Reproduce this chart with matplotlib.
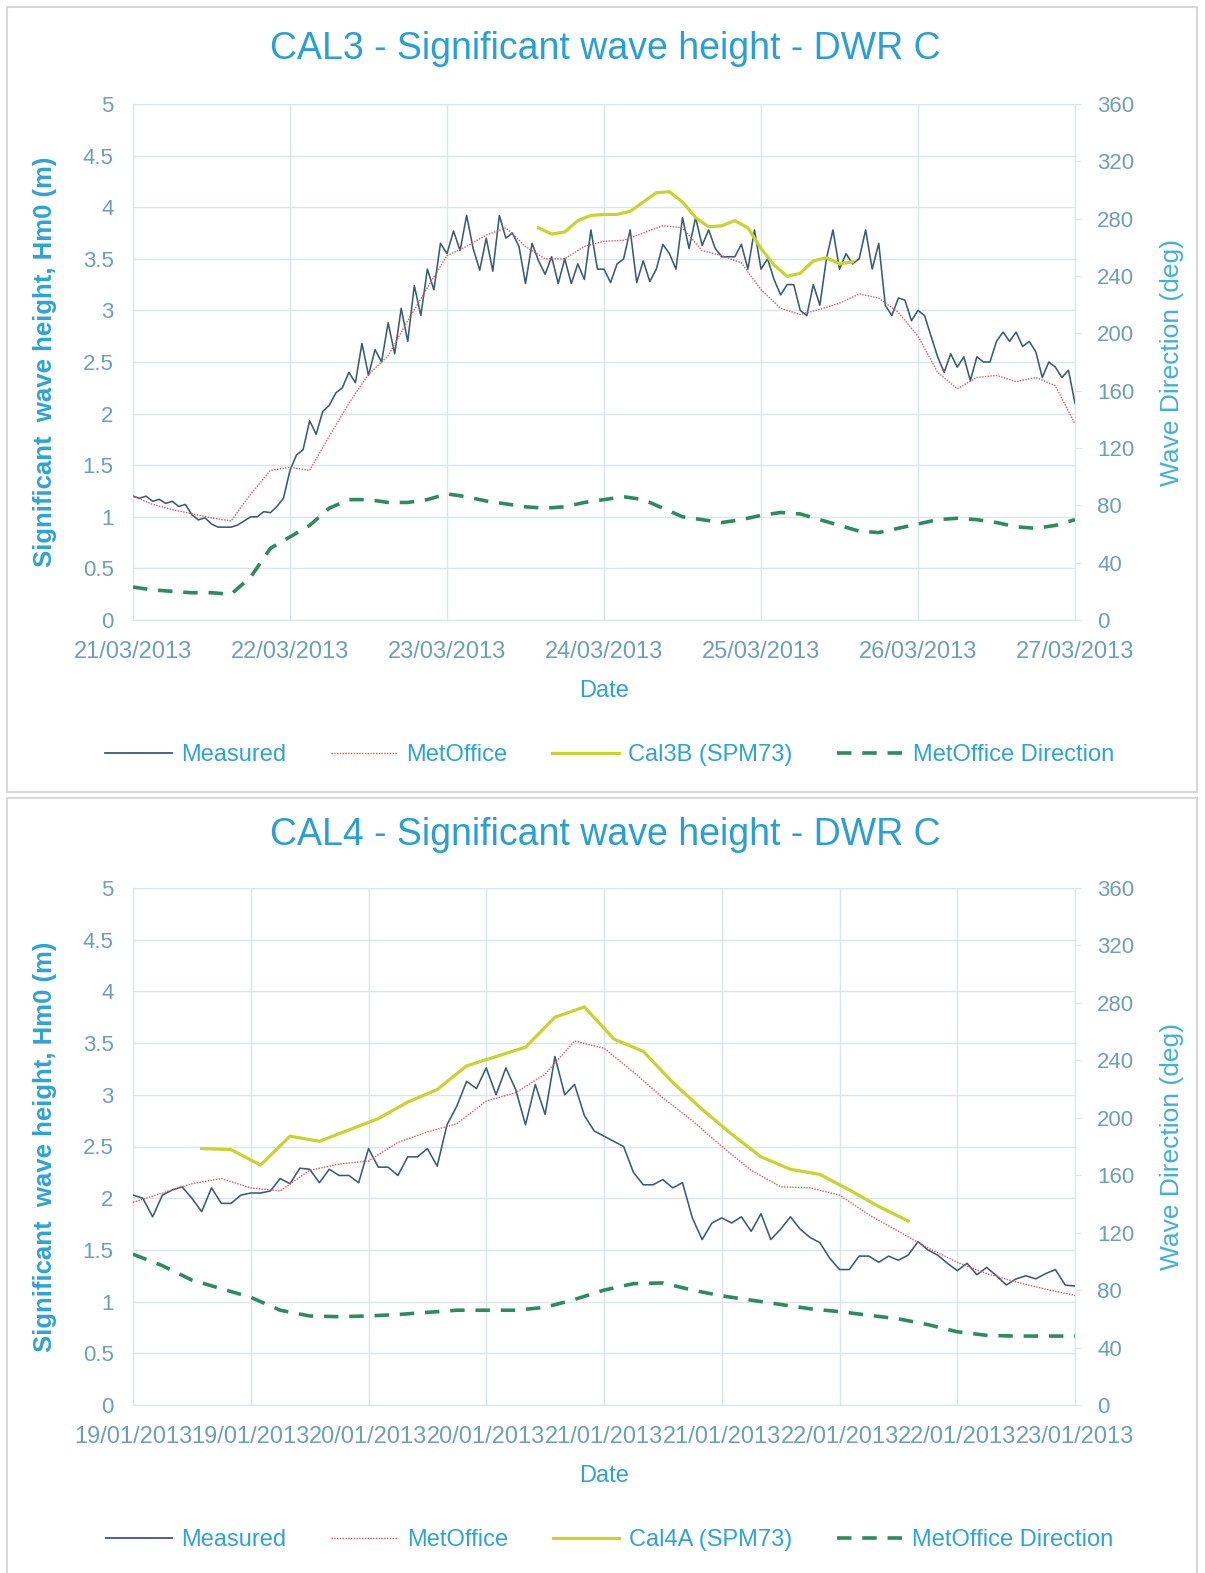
import numpy as np
import pandas as pd
import matplotlib

matplotlib.use("Agg")
import matplotlib.pyplot as plt
import matplotlib.dates as mdates
from matplotlib.lines import Line2D
from matplotlib.patches import Rectangle

plt.rcParams["font.family"] = ["Liberation Sans", "DejaVu Sans"]

C_TITLE = "#2a9fd6"
C_LABEL = "#2ea3d8"
C_TICK = "#6f9fb8"
C_GRID = "#dbe6ec"
C_MEAS = "#3b5b70"
C_MET = "#cc5f5f"
C_CAL = "#c4d62c"
C_DIR = "#2e8b5e"
C_FRAME = "#d8d8d8"

W, H = 1205, 1573

# ---- CAL3: 21/03/2013 - 27/03/2013 ----
cal3_start = "2013-03-21 00:00"
cal3_measured = [  # hourly Hm0 (m)
    1.20, 1.18, 1.20, 1.15, 1.17, 1.13, 1.15, 1.10, 1.12, 1.02, 0.97, 0.99,
    0.93, 0.90, 0.90, 0.90, 0.92, 0.96, 1.00, 1.00, 1.05, 1.04, 1.10, 1.18,
    1.45, 1.60, 1.65, 1.93, 1.80, 2.02, 2.08, 2.20, 2.25, 2.40, 2.30, 2.68,
    2.37, 2.62, 2.50, 2.88, 2.58, 3.02, 2.70, 3.24, 2.95, 3.40, 3.20, 3.65,
    3.55, 3.77, 3.58, 3.92, 3.60, 3.39, 3.70, 3.38, 3.92, 3.70, 3.75, 3.62,
    3.26, 3.65, 3.48, 3.35, 3.52, 3.26, 3.50, 3.26, 3.45, 3.30, 3.78, 3.40,
    3.40, 3.27, 3.45, 3.50, 3.78, 3.27, 3.48, 3.28, 3.40, 3.64, 3.55, 3.40,
    3.90, 3.60, 3.90, 3.63, 3.78, 3.60, 3.52, 3.52, 3.52, 3.64, 3.40, 3.78,
    3.40, 3.50, 3.30, 3.15, 3.25, 3.25, 3.00, 2.95, 3.25, 3.05, 3.50, 3.78,
    3.40, 3.55, 3.45, 3.50, 3.78, 3.40, 3.65, 3.05, 2.95, 3.12, 3.10, 2.90,
    3.00, 2.95, 2.75, 2.55, 2.40, 2.58, 2.45, 2.55, 2.32, 2.55, 2.50, 2.50,
    2.70, 2.79, 2.70, 2.79, 2.65, 2.70, 2.60, 2.35, 2.50, 2.45, 2.35, 2.42,
    2.10,
]
cal3_metoffice = [  # 3-hourly Hm0 (m)
    1.20, 1.12, 1.07, 1.03, 0.99, 0.96, 1.22, 1.45,
    1.48, 1.45, 1.78, 2.10, 2.38, 2.56, 2.90, 3.22,
    3.53, 3.62, 3.73, 3.80, 3.62, 3.50, 3.50, 3.62,
    3.67, 3.68, 3.75, 3.82, 3.80, 3.58, 3.53, 3.46,
    3.20, 3.02, 2.96, 3.01, 3.07, 3.16, 3.12, 2.98,
    2.75, 2.40, 2.24, 2.35, 2.37, 2.31, 2.35, 2.27,
    1.90,
]
cal3_model_start = "2013-03-23 14:00"
cal3_model = [  # 2-hourly Cal3B (SPM73) Hm0 (m)
    3.80, 3.74, 3.76, 3.87, 3.92, 3.93, 3.93, 3.96, 4.05, 4.14, 4.15, 4.05,
    3.90, 3.81, 3.82, 3.87, 3.80, 3.60, 3.44, 3.33, 3.36, 3.48, 3.51, 3.45,
    3.47,
]
cal3_direction = [  # 3-hourly MetOffice direction (deg)
    23, 21, 20, 19, 19, 18, 30, 50,
    58, 66, 78, 84, 84, 82, 82, 84,
    88, 86, 83, 81, 79, 78, 79, 82,
    84, 86, 84, 78, 72, 70, 68, 70,
    73, 75, 74, 70, 66, 62, 61, 64,
    67, 70, 71, 70, 68, 65, 64, 66,
    70,
]

# ---- CAL4: 19/01/2013 - 23/01/2013 ----
cal4_start = "2013-01-19 00:00"
cal4_measured = [  # hourly Hm0 (m)
    2.03, 2.00, 1.82, 2.03, 2.08, 2.11, 2.00, 1.87, 2.10, 1.95, 1.95, 2.03,
    2.05, 2.05, 2.07, 2.19, 2.14, 2.29, 2.28, 2.15, 2.28, 2.22, 2.22, 2.15,
    2.48, 2.30, 2.30, 2.22, 2.40, 2.40, 2.48, 2.31, 2.71, 2.89, 3.13, 3.06,
    3.26, 3.00, 3.26, 3.05, 2.71, 3.10, 2.81, 3.37, 3.00, 3.10, 2.80, 2.65,
    2.60, 2.55, 2.50, 2.25, 2.13, 2.13, 2.18, 2.10, 2.15, 1.81, 1.60, 1.76,
    1.81, 1.76, 1.82, 1.68, 1.85, 1.60, 1.70, 1.82, 1.70, 1.62, 1.57, 1.42,
    1.31, 1.31, 1.44, 1.44, 1.38, 1.44, 1.40, 1.45, 1.58, 1.50, 1.45, 1.37,
    1.30, 1.37, 1.26, 1.33, 1.25, 1.16, 1.22, 1.25, 1.22, 1.27, 1.31, 1.16,
    1.15,
]
cal4_metoffice = [  # 3-hourly Hm0 (m)
    1.96, 2.05, 2.14, 2.19, 2.10, 2.07, 2.27, 2.33,
    2.36, 2.54, 2.64, 2.72, 2.94, 3.02, 3.20, 3.52,
    3.45, 3.22, 2.97, 2.75, 2.50, 2.27, 2.11, 2.10,
    2.03, 1.84, 1.68, 1.52, 1.38, 1.27, 1.19, 1.12,
    1.06,
]
cal4_model_start = "2013-01-19 07:00"
cal4_model = [  # 3-hourly Cal4A (SPM73) Hm0 (m)
    2.48, 2.47, 2.32, 2.60, 2.55, 2.66, 2.77, 2.93, 3.05, 3.28, 3.37, 3.46,
    3.75, 3.85, 3.54, 3.42, 3.12, 2.86, 2.62, 2.40, 2.28, 2.23, 2.08, 1.92,
    1.78,
]
cal4_direction = [  # 3-hourly MetOffice direction (deg)
    105, 97, 87, 81, 75, 66, 62, 61.5,
    62, 63, 64.5, 66, 66, 66, 68, 73.5,
    80, 84.5, 85, 80, 76, 73, 70, 67,
    65, 62.5, 60, 56, 51, 48.5, 48, 48,
    48,
]


def draw_panel(fig, rect, title, title_y, legend_y, cal_label,
               start, days, measured, metoffice, model_start, model, model_step,
               direction, locator):
    t_meas = pd.date_range(start, periods=len(measured), freq="h")
    t_met = pd.date_range(start, periods=len(metoffice), freq="3h")
    t_dir = pd.date_range(start, periods=len(direction), freq="3h")
    t_mod = pd.date_range(model_start, periods=len(model), freq=model_step)

    ax = fig.add_axes(rect)
    ax.plot(t_meas, measured, color=C_MEAS, lw=1.15, zorder=3)
    ax.plot(t_met, metoffice, color=C_MET, lw=1.0, ls=(0, (1, 1)), zorder=4)
    ax.plot(t_mod, model, color=C_CAL, lw=2.3, zorder=5)

    t0 = pd.Timestamp(start)
    ax.set_xlim(t0, t0 + pd.Timedelta(days=days))
    ax.set_ylim(0, 5)
    yt = np.arange(0, 5.01, 0.5)
    ax.set_yticks(yt, labels=[f"{v:g}" for v in yt])
    ax.xaxis.set_major_locator(locator)
    ax.xaxis.set_major_formatter(mdates.DateFormatter("%d/%m/%Y"))
    ax.grid(True, color=C_GRID, lw=1.0)
    ax.set_axisbelow(True)
    for s in ax.spines.values():
        s.set_color(C_GRID)
    ax.tick_params(axis="both", length=0, colors=C_TICK, labelsize=17)
    ax.tick_params(axis="y", pad=14, labelsize=16)
    ax.tick_params(axis="x", pad=15)
    ax.set_xlabel("Date", color=C_LABEL, fontsize=17, labelpad=12)
    ax.set_ylabel("Significant  wave height, Hm0 (m)", color=C_LABEL,
                  fontsize=18.5, fontweight="bold")
    ax.yaxis.set_label_coords(-0.081, 0.5)

    ax2 = ax.twinx()
    ax2.plot(t_dir, direction, color=C_DIR, lw=2.6, ls=(0, (4, 3)), zorder=2)
    ax2.set_ylim(0, 360)
    ax2.set_yticks(np.arange(0, 361, 40))
    for s in ax2.spines.values():
        s.set_visible(False)
    ax2.tick_params(axis="y", length=4, color=C_GRID, labelcolor=C_TICK,
                    labelsize=16, pad=12)
    ax2.set_ylabel("Wave Direction (deg)", color="#3fb0de", fontsize=19)
    ax2.yaxis.set_label_coords(1.09, 0.5)

    fig.text(0.502, title_y, title, color=C_TITLE, fontsize=27,
             ha="center", va="center")

    handles = [
        Line2D([], [], color=C_MEAS, lw=1.3),
        Line2D([], [], color=C_MET, lw=1.0, ls=(0, (1, 1))),
        Line2D([], [], color=C_CAL, lw=2.3),
        Line2D([], [], color=C_DIR, lw=2.6, ls=(0, (4, 3))),
    ]
    labels = ["Measured", "MetOffice", cal_label, "MetOffice Direction"]
    fig.legend(handles, labels, loc="center", bbox_to_anchor=(0.506, legend_y),
               ncol=4, frameon=False, fontsize=17, handlelength=2.8,
               handletextpad=0.4, columnspacing=1.9, labelcolor=C_LABEL)
    return ax, ax2


fig = plt.figure(figsize=(W / 100, H / 100), dpi=100)

# panel frames
for top, bottom in [(7, 792), (798, 1580)]:
    fig.add_artist(Rectangle((7 / W, 1 - bottom / H), 1190 / W, (bottom - top) / H,
                             transform=fig.transFigure, fill=False,
                             ec=C_FRAME, lw=1.5))

left, width = 133 / W, 942 / W

draw_panel(fig, [left, 1 - 620 / H, width, 516 / H],
           "CAL3 - Significant wave height - DWR C", 1 - 49 / H, 1 - 755 / H,
           "Cal3B (SPM73)", cal3_start, 6, cal3_measured, cal3_metoffice,
           cal3_model_start, cal3_model, "2h", cal3_direction,
           mdates.DayLocator())

draw_panel(fig, [left, 1 - 1405 / H, width, 517 / H],
           "CAL4 - Significant wave height - DWR C", 1 - 835 / H, 1 - 1540 / H,
           "Cal4A (SPM73)", cal4_start, 4, cal4_measured, cal4_metoffice,
           cal4_model_start, cal4_model, "3h", cal4_direction,
           mdates.HourLocator(byhour=[0, 12]))

fig.savefig("out.png", dpi=100)
